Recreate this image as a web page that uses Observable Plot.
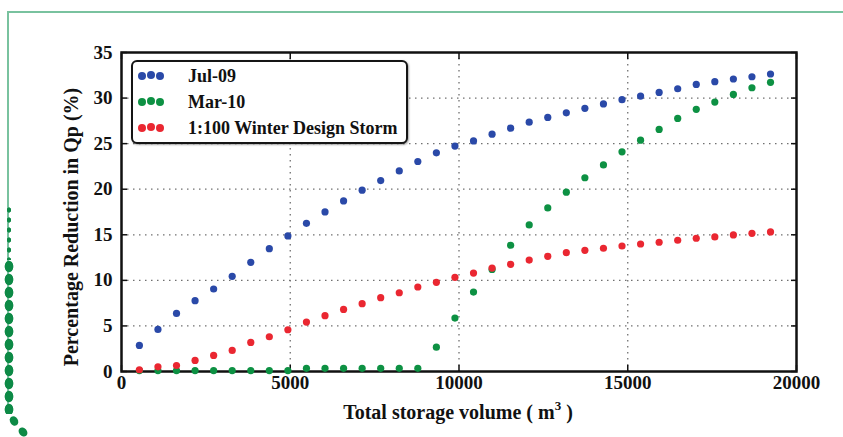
<!DOCTYPE html>
<html><head><meta charset="utf-8">
<script src="https://cdn.jsdelivr.net/npm/d3@7"></script>
<script src="https://cdn.jsdelivr.net/npm/@observablehq/plot@0.6"></script>
<style>
body{margin:0;background:#fff;}
#wrap{position:relative;width:843px;height:437px;overflow:hidden;font-family:"Liberation Serif","Times New Roman",serif;font-weight:bold;color:#111;}
#wrap svg{position:absolute;left:0;top:0;}
.deco-top{position:absolute;left:7px;top:11px;width:860px;height:400px;border-top:2px solid #79c29f;border-left:2px solid #79c29f;}
.deco-small{position:absolute;left:5px;top:205px;width:8px;height:55px;background:radial-gradient(closest-side,#0d8a46 45%,transparent 60%);background-size:8px 10px;background-repeat:repeat-y;}
.deco-beads{position:absolute;left:4px;top:260px;width:10px;height:154px;background:radial-gradient(closest-side,#0d8a46 80%,transparent 95%);background-size:10px 13px;background-repeat:repeat-y;}
.bead{position:absolute;width:8px;height:10px;border-radius:50%;background:#0d8a46;}
.ylab{position:absolute;left:71px;top:227px;transform:translate(-50%,-50%) rotate(-90deg);white-space:nowrap;font-size:20px;}
.xlab{position:absolute;left:458px;top:401px;transform:translateX(-50%);white-space:nowrap;font-size:20px;}
.xlab sup{font-size:13px;vertical-align:9px;line-height:0;}
.legend{position:absolute;left:131px;top:60px;width:273px;height:80px;border:2px solid #151515;border-radius:6px;background:#fff;box-shadow:1px 1px 2px rgba(0,0,0,0.35);}
.legend .row{position:absolute;left:55px;font-size:18px;line-height:18px;white-space:nowrap;}
.legend .dot{position:absolute;width:8px;height:8px;border-radius:50%;}
</style></head><body>
<div id="wrap">
  <div class="deco-top"></div>
  <div class="deco-small"></div>
  <div class="deco-beads"></div>
  <div class="bead" style="left:10px;top:416px;transform:rotate(-30deg)"></div>
  <div class="bead" style="left:19px;top:427px;transform:rotate(-40deg)"></div>
</div>
<script>
// Total storage volume (m3)
const volume = [530,1080,1630,2180,2730,3280,3830,4380,4930,5480,6030,6580,7130,7680,8230,8780,9330,9880,10430,10980,11530,12080,12630,13180,13730,14280,14830,15380,15930,16480,17030,17580,18130,18680,19230];
// Percentage reduction in Qp (%)
const jul09 = [2.86,4.62,6.37,7.77,9.05,10.44,11.98,13.48,14.87,16.26,17.51,18.72,19.89,20.95,22.01,23.04,23.99,24.73,25.3,26.04,26.7,27.36,27.88,28.38,28.87,29.36,29.82,30.22,30.62,31.02,31.5,31.8,32.09,32.34,32.64];
const mar10 = [0.1,0.1,0.1,0.1,0.1,0.1,0.1,0.1,0.1,0.35,0.35,0.35,0.35,0.35,0.35,0.35,2.67,5.86,8.71,11.2,13.85,16.08,17.95,19.67,21.26,22.67,24.1,25.38,26.56,27.77,28.76,29.56,30.4,31.13,31.73];
const winter = [0.19,0.51,0.66,1.21,1.76,2.31,3.19,3.81,4.58,5.42,6.12,6.81,7.44,8.1,8.64,9.27,9.78,10.33,10.8,11.35,11.76,12.23,12.64,13.04,13.3,13.52,13.77,13.99,14.18,14.4,14.62,14.76,14.98,15.16,15.31];
const seriesNames = ["Jul-09","Mar-10","1:100 Winter Design Storm"];
const seriesColors = ["#2a49a8","#0d9143","#ea2731"];
const xTicks = [0,5000,10000,15000,20000];
const yTicks = [0,5,10,15,20,25,30,35];
const xLabel = "Total storage volume ( m";
const xLabelSup = "3";
const yLabel = "Percentage Reduction in Qp (%)";

const rows = [];
[jul09, mar10, winter].forEach((vals, k) => vals.forEach((v, i) => rows.push({x: volume[i], y: v, s: seriesNames[k]})));

const font = '"Liberation Serif","Times New Roman",serif';
const plain = d => String(d);
const chart = Plot.plot({
  width: 843, height: 437,
  marginLeft: 121, marginRight: 47, marginTop: 52, marginBottom: 66,
  style: {fontFamily: font, fontSize: "19px", fontWeight: "bold", color: "#111", background: "transparent", overflow: "visible"},
  x: {domain: [0, 20000]},
  y: {domain: [0, 35]},
  color: {domain: seriesNames, range: seriesColors},
  marks: [
    Plot.gridX(xTicks.slice(1, -1), {stroke: "#707070", strokeOpacity: 1, strokeWidth: 1.3, strokeDasharray: "1.5,4.5"}),
    Plot.gridY(yTicks.slice(1, -1), {stroke: "#707070", strokeOpacity: 1, strokeWidth: 1.3, strokeDasharray: "1.5,4.5"}),
    Plot.axisX(xTicks, {anchor: "bottom", tickSize: 0, tickPadding: 4, label: null, fontSize: 19, tickFormat: plain}),
    Plot.axisY(yTicks, {anchor: "left", tickSize: 0, tickPadding: 9, label: null, fontSize: 19, tickFormat: plain}),
    Plot.axisX(xTicks, {anchor: "bottom", tickSize: -6, tickFormat: () => "", label: null, strokeWidth: 1.5}),
    Plot.axisX(xTicks, {anchor: "top", tickSize: -6, tickFormat: () => "", label: null, strokeWidth: 1.5}),
    Plot.axisY(yTicks, {anchor: "left", tickSize: -6, tickFormat: () => "", label: null, strokeWidth: 1.5}),
    Plot.axisY(yTicks, {anchor: "right", tickSize: -6, tickFormat: () => "", label: null, strokeWidth: 1.5}),
    Plot.frame({stroke: "#111", strokeWidth: 2.5}),
    Plot.dot(rows, {x: "x", y: "y", fill: "s", r: 3.6})
  ]
});
const wrap = document.getElementById("wrap");
wrap.appendChild(chart);

const yl = document.createElement("div");
yl.className = "ylab"; yl.textContent = yLabel; wrap.appendChild(yl);
const xl = document.createElement("div");
xl.className = "xlab"; xl.innerHTML = xLabel + "<sup>" + xLabelSup + "</sup> )"; wrap.appendChild(xl);

const lg = document.createElement("div");
lg.className = "legend";
const rowTops = [14, 40, 66];
seriesNames.forEach((name, k) => {
  const t = document.createElement("div");
  t.className = "row"; t.style.top = (rowTops[k] - 9) + "px"; t.textContent = name;
  lg.appendChild(t);
  [0, 1, 2].forEach(j => {
    const d = document.createElement("span");
    d.className = "dot";
    d.style.background = seriesColors[k];
    d.style.left = (5 + j * 9) + "px";
    d.style.top = (rowTops[k] - 4 - (j === 1 ? 1.5 : 0)) + "px";
    lg.appendChild(d);
  });
});
wrap.appendChild(lg);
</script>
</body></html>
